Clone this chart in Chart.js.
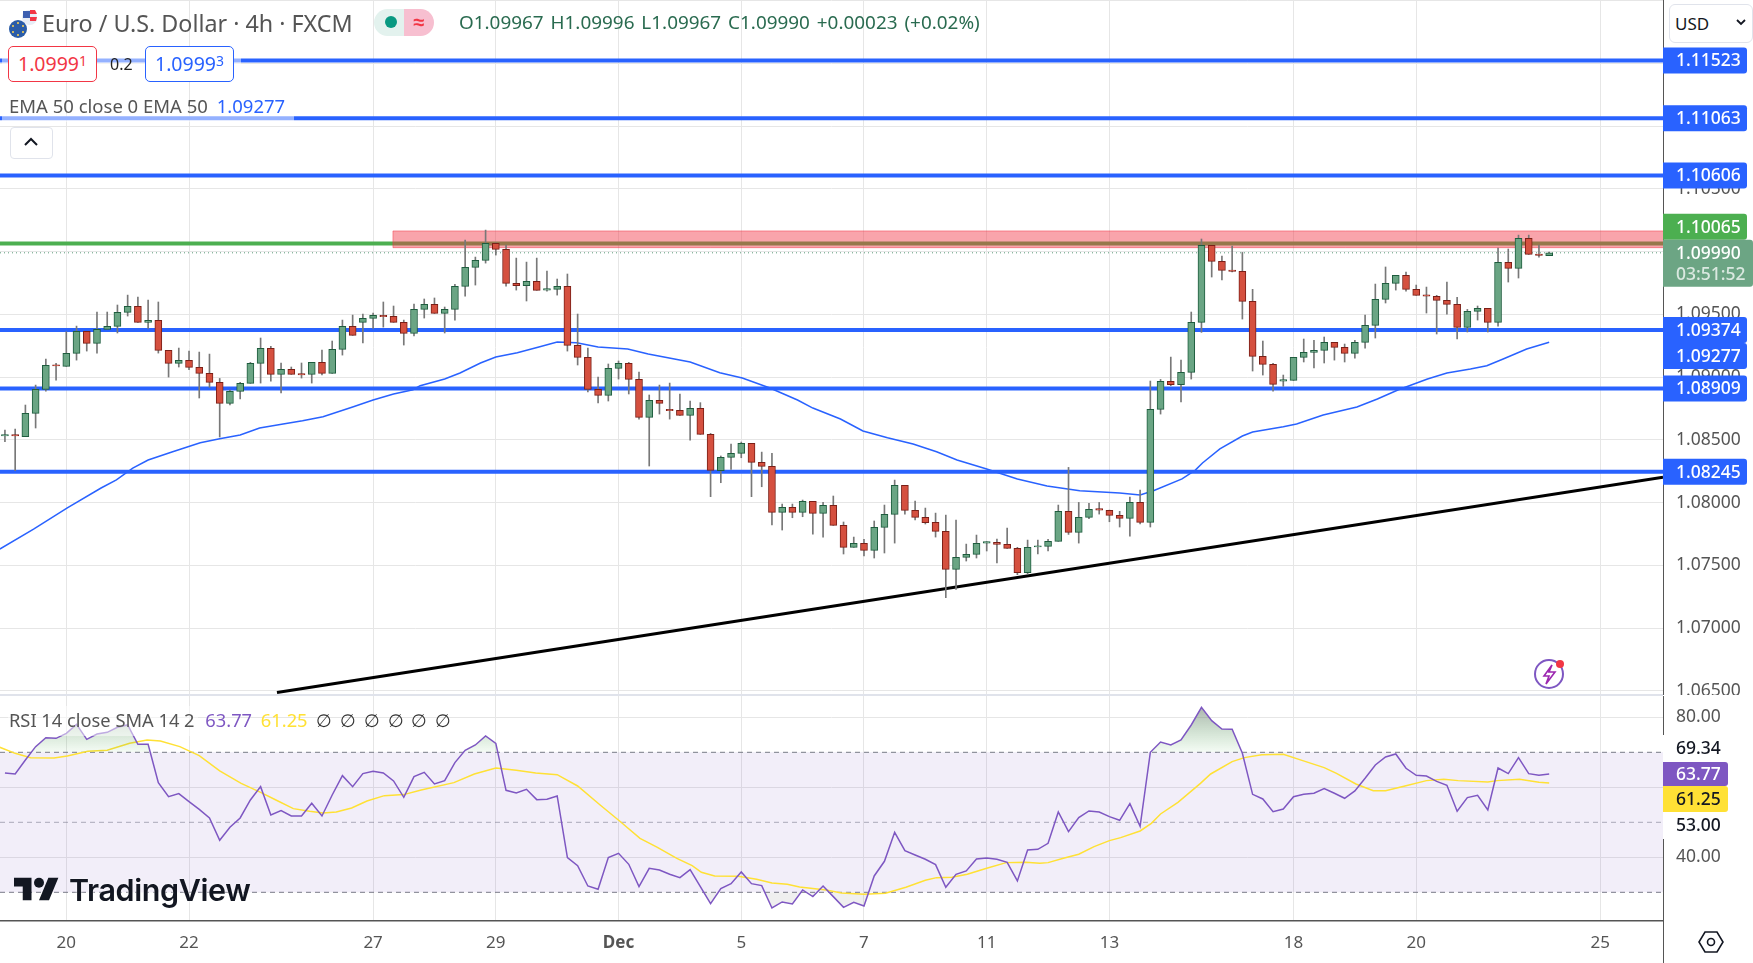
<!DOCTYPE html>
<html>
<head>
<meta charset="utf-8">
<title>Euro / U.S. Dollar 4h</title>
<script src="https://cdn.jsdelivr.net/npm/chart.js@4"></script>
<style>
    html, body { margin: 0; padding: 0; background: #fff; width: 1753px; height: 963px; overflow: hidden; }
    body { font-family: "Noto Sans", sans-serif; color: #555; position: relative; }
    canvas { position: absolute; left: 0; }
    #priceChart { top: 0; }
    #rsiChart { top: 696px; }
    .ui { position: absolute; white-space: nowrap; }
    .glass { position: absolute; background: rgba(255,255,255,0.5); }
    .quote { position: absolute; top: 46px; height: 34px; line-height: 34px; width: 87px; text-align: center; background: #fff; border-radius: 5px; font-size: 19.5px; }
    .quote sup { font-size: 14px; line-height: 0; vertical-align: 5px; }
</style>
</head>
<body>
<canvas id="priceChart" width="1753" height="695"></canvas>
<canvas id="rsiChart" width="1753" height="267"></canvas>

<div class="ui" style="left:0;top:694px;width:1663px;height:2px;background:#e0e3eb"></div>
<div class="ui" style="left:1663px;top:921px;width:1px;height:42px;background:#555"></div>

<!-- Header legend -->
<svg class="ui" style="left:8px;top:9px" width="30" height="30" viewBox="0 0 30 30">
    <rect x="14" y="1" width="15" height="15" rx="7" fill="#e8edf6"/>
    <path d="M22 1h5l2 4h-7zM22 8h7l-1 4h-6z" fill="#f23645"/>
    <rect x="15" y="2" width="7" height="7" fill="#3d5fb0"/>
    <circle cx="10" cy="20" r="9" fill="#2a5ca8"/>
    <circle cx="10" cy="14" r="1" fill="#ffd54f"/><circle cx="15" cy="17" r="1" fill="#ffd54f"/>
    <circle cx="15" cy="23" r="1" fill="#ffd54f"/><circle cx="10" cy="26" r="1" fill="#ffd54f"/>
    <circle cx="5" cy="23" r="1" fill="#ffd54f"/><circle cx="5" cy="17" r="1" fill="#ffd54f"/>
</svg>
<div class="ui" style="left:42px;top:7px;font-size:23.3px;line-height:32px;color:#555">Euro / U.S. Dollar · 4h · FXCM</div>

<div class="ui" style="left:374px;top:9px;width:31px;height:27px;background:#e3f2ee;border-radius:14px 0 0 14px"></div>
<div class="ui" style="left:404px;top:9px;width:30px;height:27px;background:#f7bfd0;border-radius:0 14px 14px 0;color:#f23645;text-align:center;font-size:20px;line-height:25px;font-weight:bold">≈</div>
<div class="ui" style="left:385px;top:16px;width:12px;height:12px;border-radius:50%;background:#089981"></div>

<div class="ui" style="left:459px;top:7px;font-size:18.900px;line-height:30px;color:#2a6b50;word-spacing:2px">O1.09967 H1.09996 L1.09967 C1.09990 +0.00023 (+0.02%)</div>

<div class="glass" style="left:2px;top:56px;width:239px;height:8px"></div>
<div class="glass" style="left:2px;top:114px;width:292px;height:8px"></div>

<div class="quote" style="left:8px;border:1px solid #f23645;color:#f23645">1.0999<sup>1</sup></div>
<div class="ui" style="left:110px;top:50px;font-size:16px;line-height:28px;color:#222">0.2</div>
<div class="quote" style="left:145px;border:1px solid #2962ff;color:#2962ff">1.0999<sup>3</sup></div>

<div class="ui" style="left:9px;top:92px;font-size:18.500px;line-height:28px;color:#555">EMA 50 close 0 EMA 50 <span style="color:#2962ff;margin-left:4px">1.09277</span></div>

<div class="ui" style="left:10px;top:127px;width:41px;height:30px;border:1px solid #e0e3eb;border-radius:4px;background:#fff"></div>
<svg class="ui" style="left:24px;top:136px" width="14" height="12" viewBox="0 0 14 12"><path d="M1 9l6-6 6 6" fill="none" stroke="#131722" stroke-width="2"/></svg>

<!-- Currency selector -->
<div class="ui" style="left:1669px;top:4px;width:82px;height:37px;border:1px solid #e0e3eb;border-radius:6px;background:#fff;color:#131722;font-size:17px;line-height:37px;text-indent:5px">USD</div>
<svg class="ui" style="left:1735px;top:18px" width="12" height="9" viewBox="0 0 12 9"><path d="M2 2l4 4 4-4" fill="none" stroke="#131722" stroke-width="1.8"/></svg>

<!-- Alert icon -->
<svg class="ui" style="left:1532px;top:656px" width="36" height="36" viewBox="0 0 36 36">
    <circle cx="17" cy="18" r="14" fill="#fff" stroke="#7e57c2" stroke-width="2"/>
    <path d="M20 9l-8 11h5l-3 8 9-12h-6z" fill="none" stroke="#9c27b0" stroke-width="1.6"/>
    <circle cx="28" cy="8" r="4" fill="#f23645"/>
</svg>

<!-- RSI legend -->
<div class="glass" style="left:8px;top:706px;width:190px;height:30px"></div>
<div class="ui" style="left:9px;top:706px;font-size:18.300px;line-height:28px;color:#555">RSI 14 close SMA 14 2 <span style="color:#7e57c2;margin-left:6px">63.77</span> <span style="color:#ffe135;margin-left:4px">61.25</span> <span style="color:#333;margin-left:4px;word-spacing:3px">∅ ∅ ∅ ∅ ∅ ∅</span></div>

<!-- Watermark -->
<svg class="ui" style="left:14px;top:877px" width="45" height="24" viewBox="0 0 36 19">
    <path d="M14 18.5H7V7.500H0V0.500h14zM28 18.500h-8L27.500 0.500h8z" fill="#131722"/><circle cx="20" cy="4.500" r="4" fill="#131722"/>
</svg>
<div class="ui" style="left:69px;top:870px;font-family:Inter,sans-serif;font-weight:600;font-size:30.500px;line-height:40px;color:#131722;letter-spacing:-0.4px;text-shadow:0 0 3px #fff">TradingView</div>

<!-- Settings icon -->
<svg class="ui" style="left:1698px;top:929px" width="26" height="26" viewBox="0 0 26 26">
    <path d="M7 3h12l6 10-6 10H7L1 13z" fill="none" stroke="#131722" stroke-width="1.6"/>
    <circle cx="13" cy="13" r="3.500" fill="none" stroke="#131722" stroke-width="1.6"/>
</svg>

<script>
// Candles, one entry per 4h bar
const candleOpen = [
    1.08530,1.08541,1.08525,1.08711,1.08902,1.09098,1.09085,1.09189,1.09364,1.09268,1.09380,1.09404,1.09515,1.09563,1.09436,1.09452,
    1.09213,1.09109,1.09133,1.09077,1.09029,1.08958,1.08790,1.08886,1.08950,1.09109,1.09228,1.09021,1.09061,1.09027,1.09021,1.09117,
    1.09029,1.09220,1.09404,1.09436,1.09467,1.09491,1.09483,1.09436,1.09348,1.09539,1.09579,1.09507,1.09539,1.09722,1.09874,1.09930,
    1.10065,1.10017,1.09746,1.09728,1.09762,1.09693,1.09699,1.09722,1.09252,1.09157,1.08902,1.08854,1.09069,1.09109,1.08981,1.08679,
    1.08814,1.08742,1.08734,1.08695,1.08750,1.08543,1.08254,1.08360,1.08392,1.08471,1.08320,1.08288,1.07922,1.07962,1.07922,1.08009,
    1.07914,1.07977,1.07818,1.07643,1.07675,1.07619,1.07802,1.07906,1.08137,1.07938,1.07882,1.07842,1.07770,1.07468,1.07563,1.07587,
    1.07677,1.07683,1.07667,1.07635,1.07441,1.07646,1.07651,1.07691,1.07930,1.07762,1.07882,1.07951,1.07938,1.07898,1.07874,1.08001,
    1.07842,1.08742,1.08965,1.08939,1.09037,1.09436,1.10049,1.09922,1.09853,1.09842,1.09603,1.09165,1.09101,1.08968,1.08973,1.09157,
    1.09197,1.09213,1.09276,1.09236,1.09189,1.09276,1.09412,1.09619,1.09746,1.09810,1.09699,1.09656,1.09643,1.09611,1.09579,1.09396,
    1.09523,1.09547,1.09436,1.09914,1.09866,1.10105,1.09980,1.09967
];
const candleHigh = [
    1.08578,1.08586,1.08777,1.08936,1.09143,1.09109,1.09361,1.09406,1.09364,1.09518,1.09518,1.09574,1.09653,1.09637,1.09614,1.09598,
    1.09213,1.09231,1.09207,1.09199,1.09183,1.08989,1.08896,1.08958,1.09117,1.09311,1.09244,1.09112,1.09080,1.09112,1.09117,1.09215,
    1.09287,1.09454,1.09494,1.09502,1.09510,1.09598,1.09566,1.09454,1.09582,1.09622,1.09630,1.09558,1.09738,1.10092,1.09956,1.10171,
    1.10070,1.10052,1.09948,1.09916,1.09948,1.09845,1.09781,1.09821,1.09502,1.09231,1.09000,1.09104,1.09128,1.09117,1.09040,1.08857,
    1.08936,1.08952,1.08865,1.08809,1.08796,1.08551,1.08371,1.08466,1.08482,1.08471,1.08402,1.08392,1.07988,1.07988,1.08020,1.08009,
    1.08001,1.08052,1.07845,1.07725,1.07707,1.07853,1.07980,1.08179,1.08137,1.08012,1.07956,1.07916,1.07900,1.07861,1.07669,1.07741,
    1.07688,1.07709,1.07797,1.07643,1.07701,1.07701,1.07707,1.07980,1.08280,1.08001,1.07993,1.08001,1.07940,1.07930,1.08044,1.08100,
    1.08968,1.08981,1.09159,1.09135,1.09518,1.10100,1.10049,1.09964,1.10044,1.09993,1.09699,1.09287,1.09109,1.09016,1.09157,1.09303,
    1.09292,1.09319,1.09276,1.09263,1.09292,1.09494,1.09741,1.09877,1.09810,1.09837,1.09733,1.09717,1.09651,1.09757,1.09635,1.09539,
    1.09566,1.09547,1.10028,1.10020,1.10131,1.10131,1.10052,1.09996
];
const candleLow = [
    1.08485,1.08254,1.08525,1.08594,1.08888,1.08976,1.09085,1.09135,1.09207,1.09191,1.09380,1.09351,1.09486,1.09436,1.09388,1.09191,
    1.09000,1.09080,1.09058,1.08833,1.08918,1.08522,1.08777,1.08825,1.08950,1.08952,1.08968,1.08873,1.09021,1.08992,1.08952,1.09016,
    1.09029,1.09175,1.09332,1.09271,1.09388,1.09398,1.09436,1.09255,1.09327,1.09470,1.09507,1.09351,1.09454,1.09645,1.09733,1.09908,
    1.09972,1.09725,1.09693,1.09606,1.09691,1.09685,1.09653,1.09207,1.09096,1.08881,1.08793,1.08809,1.08984,1.08865,1.08665,1.08291,
    1.08705,1.08665,1.08695,1.08498,1.08543,1.08047,1.08158,1.08264,1.08357,1.08047,1.08126,1.07821,1.07781,1.07879,1.07887,1.07749,
    1.07725,1.07818,1.07590,1.07643,1.07574,1.07558,1.07598,1.07677,1.07908,1.07861,1.07829,1.07725,1.07242,1.07308,1.07534,1.07558,
    1.07614,1.07518,1.07635,1.07425,1.07430,1.07590,1.07614,1.07691,1.07746,1.07677,1.07871,1.07908,1.07847,1.07805,1.07733,1.07829,
    1.07805,1.08705,1.08931,1.08801,1.08984,1.09356,1.09797,1.09773,1.09837,1.09462,1.09048,1.09016,1.08888,1.08926,1.08973,1.09120,
    1.09072,1.09112,1.09135,1.09120,1.09151,1.09231,1.09311,1.09590,1.09693,1.09685,1.09651,1.09510,1.09343,1.09502,1.09303,1.09359,
    1.09454,1.09359,1.09406,1.09757,1.09789,1.09977,1.09956,1.09967
];
const candleClose = [
    1.08541,1.08530,1.08711,1.08902,1.09093,1.09088,1.09189,1.09364,1.09268,1.09380,1.09404,1.09515,1.09563,1.09436,1.09452,1.09213,
    1.09109,1.09133,1.09077,1.09029,1.08958,1.08790,1.08886,1.08950,1.09109,1.09228,1.09021,1.09061,1.09021,1.09016,1.09117,1.09029,
    1.09220,1.09404,1.09332,1.09467,1.09491,1.09481,1.09436,1.09348,1.09539,1.09579,1.09507,1.09539,1.09722,1.09874,1.09930,1.10065,
    1.10017,1.09746,1.09728,1.09762,1.09691,1.09704,1.09722,1.09252,1.09157,1.08902,1.08854,1.09069,1.09109,1.08981,1.08679,1.08814,
    1.08790,1.08732,1.08695,1.08750,1.08543,1.08256,1.08360,1.08392,1.08471,1.08320,1.08288,1.07922,1.07962,1.07922,1.08009,1.07914,
    1.07977,1.07818,1.07643,1.07675,1.07619,1.07802,1.07906,1.08137,1.07938,1.07882,1.07839,1.07770,1.07468,1.07563,1.07587,1.07675,
    1.07688,1.07667,1.07635,1.07441,1.07643,1.07656,1.07691,1.07930,1.07762,1.07882,1.07946,1.07940,1.07898,1.07874,1.08001,1.07842,
    1.08742,1.08965,1.08939,1.09037,1.09436,1.10049,1.09922,1.09850,1.09842,1.09603,1.09165,1.09101,1.08942,1.08979,1.09157,1.09197,
    1.09213,1.09276,1.09236,1.09189,1.09276,1.09412,1.09619,1.09746,1.09810,1.09699,1.09651,1.09645,1.09611,1.09579,1.09396,1.09523,
    1.09547,1.09436,1.09914,1.09866,1.10105,1.09977,1.09969,1.09990
];

// EMA 50 at its bends: bar position and value
const emaBars = [
    -0.5,2.8,6.1,9.4,10.9,12.5,14,16.4,19.1,21,23,24.9,27.2,29.1,31.1,34,36,38,39.9,40.6,43,44.5,46.5,48,50.1,52.3,54,55.9,58,60.9,62.9,
    67,69.9,72.1,74.8,77.5,79,81.7,83.9,86.3,88.8,91.1,93.1,96,99,101.9,105.1,109,111,112.3,115.1,116.4,117.1,118.8,121,122,125,126.3,
    128.9,132.2,134.2,136.2,139.1,141,143.3,144.9,146.5,148.8,151
];
const emaValues = [
    1.07630,1.07789,1.07957,1.08116,1.08180,1.08275,1.08339,1.08405,1.08477,1.08509,1.08538,1.08594,1.08626,1.08652,1.08684,1.08761,
    1.08817,1.08865,1.08899,1.08931,1.08984,1.09032,1.09112,1.09160,1.09194,1.09242,1.09279,1.09274,1.09239,1.09224,1.09184,1.09120,
    1.09035,1.08992,1.08913,1.08817,1.08753,1.08666,1.08570,1.08517,1.08467,1.08405,1.08339,1.08267,1.08188,1.08132,1.08094,1.08076,
    1.08060,1.08094,1.08188,1.08259,1.08315,1.08427,1.08530,1.08562,1.08604,1.08626,1.08698,1.08761,1.08825,1.08897,1.08984,1.09032,
    1.09064,1.09090,1.09144,1.09224,1.09277
];

// Support and resistance levels
const blueLevels = [1.11523, 1.11063, 1.10606, 1.09374, 1.08909, 1.08245];
const greenLevel = 1.10065;
const lastPrice = 1.09990;
const zoneStartBar = 37.94;
const zoneTop = 1.10164;
const zoneBottom = 1.10031;
const trendBars = [26.6, 162.13];
const trendValues = [1.06486, 1.08201];

// RSI per bar
const rsiValues = [
    64.10,63.81,67.81,71.62,74.19,74.00,75.43,78.00,73.71,75.24,75.71,77.14,77.81,72.29,72.29,61.33,57.33,58.19,55.91,53.71,51.24,44.86,
    48.57,51.24,56.38,60.19,52.10,53.33,51.81,51.81,55.43,51.81,57.81,63.33,60.19,63.91,64.57,64.10,61.81,57.14,63.05,64.29,60.95,61.91,
    67.05,70.57,72.10,74.67,72.57,59.14,58.38,59.43,56.48,56.57,57.52,39.91,37.62,31.81,30.86,39.91,41.14,38.00,31.62,36.86,36.38,35.14,
    34.19,36.48,31.62,26.76,31.05,32.48,35.81,32.48,31.91,25.52,27.24,26.67,30.67,28.76,31.81,28.76,25.71,27.14,26.10,34.67,38.86,47.14,
    41.91,40.67,39.43,37.91,31.43,35.14,36.10,39.52,39.81,39.43,38.57,33.24,42.10,42.29,44.00,52.95,47.33,51.33,53.24,52.95,51.62,50.57,
    55.33,48.86,70.00,72.95,72.10,73.52,77.81,82.86,79.05,76.67,76.57,69.71,58.00,56.67,53.05,53.81,57.33,58.00,58.29,59.62,58.29,56.86,
    58.95,62.57,66.38,68.67,69.52,65.43,63.43,63.24,61.71,60.57,53.14,57.05,57.71,53.52,65.52,63.91,68.48,63.91,63.43,63.77
];

// RSI smoothing line read at its bends
const smaBars = [
    -0.5,1,2.5,4.8,6.1,8.1,10,12.2,13.9,15.2,17.1,19,21,23.1,25,26.5,28.2,29.8,31.1,32.4,33.9,35.4,37.1,39,40.7,43.9,45.9,48,50,51.9,54,56,58.2,
    60.1,62.1,63.8,65.7,67.2,68.1,69.4,71.7,73.5,75,76.5,77.7,80.3,81.8,84,86.1,88.1,90,91.1,92.6,94.1,96,97.9,99.8,101.2,102,103.5,105,106.5,
    108,109.1,111,112.1,113,114.7,116.9,117.9,120,121.2,122.9,125,126.9,129,130.2,132.1,133.8,135,136.9,139,140.7,142.1,145,145.9,148.1,150,151
];
const smaValues = [
    71.43,69.71,68.48,68.38,68.95,70.29,70.57,72.57,73.52,73.24,71.62,69.05,64.67,61.14,58.57,56.38,53.91,53.14,52.67,52.95,54.10,56.10,57.62,
    57.91,59.24,61.33,63.81,65.52,64.86,64.10,63.62,60.38,54.95,50.38,45.43,42.86,39.71,37.62,35.71,34.67,34.57,33.71,32.67,32.29,31.52,30.67,
    29.81,29.43,29.71,31.43,33.43,34.19,34.29,35.14,36.86,38.48,38.57,38.29,38.48,39.71,40.86,43.05,44.76,45.62,47.52,49.71,52.38,55.71,61.14,
    63.81,67.33,68.48,69.33,69.43,67.62,65.62,64.00,60.95,59.05,59.05,60.38,61.91,62.29,61.91,61.52,61.91,62.29,61.43,61.25
];

// Axis ticks
const timeBars = [6, 18, 36, 48, 60, 72, 84, 96, 108, 126, 138, 156];
const timeLabels = ['20', '22', '27', '29', 'Dec', '5', '7', '11', '13', '18', '20', '25'];
const priceTicks = [1.065, 1.07, 1.075, 1.08, 1.085, 1.09, 1.095, 1.10, 1.105, 1.11, 1.115, 1.12];
const rsiTicks = [80, 60, 40];
const rsiBands = [70, 50, 30];

// Visible window of the shared bar axis and of both price scales
const barMin = -0.483;
const barMax = 162.13;
const priceMin = 1.064665;
const priceMax = 1.120044;
const rsiMin = 21.8;
const rsiMax = 86.09;

const GRID = '#e6e6e6';
const AXIS = '#555';
const FONT = '"Noto Sans", sans-serif';
const BLUE = '#2962ff';
const GREEN = '#4caf50';
const GREEN_BODY = '#6aa584';
const GREEN_EDGE = '#1e5c3e';
const RED_BODY = '#d5503f';
const RED_EDGE = '#7a1f17';

function lineAt(level) {
    return [{ x: barMin, y: level }, { x: barMax, y: level }];
}

function lineDataset(data, color, width, order, extra) {
    return Object.assign({
        type: 'line',
        data: data,
        borderColor: color,
        backgroundColor: 'transparent',
        borderWidth: width,
        pointRadius: 0,
        tension: 0,
        fill: false,
        order: order
    }, extra || {});
}

function zip(xs, ys) {
    return xs.map((x, i) => ({ x: x, y: ys[i] }));
}

// Both charts share the same bar axis with the date ticks
function barAxis(height, showLabels) {
    return {
        type: 'linear',
        min: barMin,
        max: barMax,
        offset: false,
        border: { display: showLabels, color: AXIS, width: 1.5 },
        grid: { color: GRID, drawTicks: false, offset: false },
        afterBuildTicks: scale => { scale.ticks = timeBars.map(v => ({ value: v })); },
        afterFit: scale => { scale.height = height; scale.paddingLeft = 0; scale.paddingRight = 0; },
        ticks: {
            display: showLabels,
            autoSkip: false,
            maxRotation: 0,
            padding: 12,
            color: AXIS,
            font: ctx => ({ family: FONT, size: 17, weight: ctx.tick && ctx.tick.value === 60 ? 'bold' : 'normal' }),
            callback: v => timeLabels[timeBars.indexOf(v)]
        }
    };
}

function valueAxis(min, max, ticks, digits) {
    return {
        position: 'right',
        min: min,
        max: max,
        border: { color: AXIS, width: 1 },
        grid: { color: GRID, drawTicks: false },
        afterBuildTicks: scale => { scale.ticks = ticks.map(v => ({ value: v })); },
        // Chart area has to fill the pane, so no room is kept for half tick labels
        afterFit: scale => { scale.width = 1753 - 1663; scale.paddingTop = 0; scale.paddingBottom = 0; },
        ticks: {
            padding: 13,
            color: AXIS,
            font: { family: FONT, size: 17.5 },
            // The top grid line has no label in the picture
            callback: v => v === priceTicks[priceTicks.length - 1] ? '' : v.toFixed(digits)
        }
    };
}

// Label boxes on the right axis, drawn over the tick labels
function drawTag(ctx, top, height, width, fill, lines) {
    ctx.fillStyle = fill;
    ctx.beginPath();
    ctx.roundRect(1663, top, width, height, [0, 3, 3, 0]);
    ctx.fill();
    ctx.textBaseline = 'middle';
    ctx.textAlign = 'left';
    lines.forEach(line => {
        ctx.fillStyle = line.color;
        ctx.font = '500 17.5px ' + FONT;
        ctx.fillText(line.text, 1676, line.y);
    });
}

const priceTags = {
    id: 'priceTags',
    afterDraw(chart) {
        const ctx = chart.ctx;
        const y = chart.scales.y;
        const tagHeight = 26;
        ctx.save();
        blueLevels.forEach(level => {
            const mid = y.getPixelForValue(level);
            drawTag(ctx, mid - tagHeight / 2, tagHeight, 84, BLUE,
                [{ text: level.toFixed(5), color: '#fff', y: mid + 1 }]);
        });
        // EMA tag sits right under the 1.09374 tag
        const emaLast = emaValues[emaValues.length - 1];
        const emaMid = y.getPixelForValue(blueLevels[3]) + tagHeight;
        drawTag(ctx, emaMid - tagHeight / 2, tagHeight, 84, BLUE,
            [{ text: emaLast.toFixed(5), color: '#fff', y: emaMid + 1 }]);
        // Current price tag with countdown, green level is pushed above it
        const lastMid = y.getPixelForValue(lastPrice);
        drawTag(ctx, lastMid - 13 - tagHeight, tagHeight, 84, GREEN,
            [{ text: greenLevel.toFixed(5), color: '#fff', y: lastMid - 25 }]);
        drawTag(ctx, lastMid - 13, 47, 90, '#6ca584', [
            { text: lastPrice.toFixed(5), color: '#fff', y: lastMid + 1 },
            { text: '03:51:52', color: 'rgba(255,255,255,0.75)', y: lastMid + 22 }
        ]);
        ctx.restore();
    }
};

const rsiTags = {
    id: 'rsiTags',
    afterDraw(chart) {
        const ctx = chart.ctx;
        ctx.save();
        const top = 735 - 696;
        drawTag(ctx, top, 27, 65, '#fff', [{ text: '69.34', color: '#131722', y: top + 14 }]);
        drawTag(ctx, top + 27, 24, 65, '#7e57c2', [{ text: rsiValues[rsiValues.length - 1].toFixed(2), color: '#fff', y: top + 40 }]);
        drawTag(ctx, top + 51, 26, 65, '#ffe135', [{ text: smaValues[smaValues.length - 1].toFixed(2), color: '#131722', y: top + 65 }]);
        drawTag(ctx, top + 77, 27, 65, '#fff', [{ text: '53.00', color: '#131722', y: top + 91 }]);
        ctx.restore();
    }
};

document.addEventListener('DOMContentLoaded', function() {
    const bars = candleOpen.map((_, i) => i);
    const isUp = i => candleClose[i] >= candleOpen[i];

    // Price pane
    new Chart(document.getElementById('priceChart'), {
        type: 'bar',
        data: {
            datasets: [
                // Candle bodies and wicks are floating bars
                {
                    data: bars.map(i => ({ x: i, y: [candleOpen[i], candleClose[i]] })),
                    backgroundColor: bars.map(i => isUp(i) ? GREEN_BODY : RED_BODY),
                    borderColor: bars.map(i => isUp(i) ? GREEN_EDGE : RED_EDGE),
                    borderWidth: 1,
                    borderSkipped: false,
                    barThickness: 7,
                    grouped: false,
                    order: 1
                },
                {
                    data: bars.map(i => ({ x: i, y: [candleLow[i], candleHigh[i]] })),
                    backgroundColor: '#787878',
                    borderWidth: 0,
                    barThickness: 1,
                    grouped: false,
                    order: 2
                },
                lineDataset(zip(emaBars, emaValues), BLUE, 1.5, 3),
                lineDataset(zip(trendBars, trendValues), '#000', 3, 4),
                ...blueLevels.map(level => lineDataset(lineAt(level), BLUE, 4, 5)),
                lineDataset(lineAt(lastPrice), '#5c9a7a', 1, 6, { borderDash: [1, 3] }),
                // Resistance zone sits over the green level
                lineDataset([{ x: zoneStartBar, y: zoneTop }, { x: barMax, y: zoneTop }], 'rgba(242,54,69,0.5)', 1, 7, {
                    fill: { value: zoneBottom },
                    backgroundColor: 'rgba(242,54,69,0.45)'
                }),
                lineDataset([{ x: zoneStartBar, y: zoneBottom }, { x: zoneStartBar, y: zoneTop }], 'rgba(242,54,69,0.5)', 1, 7),
                lineDataset([{ x: zoneStartBar, y: zoneBottom }, { x: barMax, y: zoneBottom }], 'rgba(242,54,69,0.5)', 1, 7),
                lineDataset(lineAt(greenLevel), GREEN, 4, 8)
            ]
        },
        options: {
            responsive: false,
            animation: false,
            events: [],
            layout: { padding: 0 },
            plugins: { legend: { display: false }, tooltip: { enabled: false } },
            scales: {
                x: barAxis(0, false),
                y: valueAxis(priceMin, priceMax, priceTicks, 5)
            }
        },
        plugins: [priceTags]
    });

    // RSI pane
    const rsiCanvas = document.getElementById('rsiChart');
    const rsiPoints = zip(bars, rsiValues);

    // Overbought area gets darker towards the top of the pane
    const paneHeight = 225;
    const overbought = rsiCanvas.getContext('2d').createLinearGradient(0,
        (rsiMax - 83) / (rsiMax - rsiMin) * paneHeight, 0,
        (rsiMax - rsiBands[0]) / (rsiMax - rsiMin) * paneHeight);
    overbought.addColorStop(0, 'rgba(90,105,95,0.5)');
    overbought.addColorStop(1, 'rgba(76,175,80,0.06)');

    new Chart(rsiCanvas, {
        type: 'line',
        data: {
            datasets: [
                lineDataset(rsiPoints, '#7e57c2', 1.5, 1, {
                    fill: { value: rsiBands[0], above: overbought, below: 'transparent' }
                }),
                lineDataset(rsiPoints, 'transparent', 0, 3, {
                    fill: { value: rsiBands[2], above: 'transparent', below: 'rgba(120,120,120,0.12)' }
                }),
                lineDataset(zip(smaBars, smaValues), '#ffe135', 1.5, 2),
                lineDataset(lineAt(rsiBands[0]), '#787b86', 1, 4, {
                    borderDash: [5, 4],
                    fill: { value: rsiBands[2] },
                    backgroundColor: 'rgba(126,87,194,0.1)'
                }),
                lineDataset(lineAt(rsiBands[1]), 'rgba(120,123,134,0.6)', 1, 4, { borderDash: [5, 4] }),
                lineDataset(lineAt(rsiBands[2]), '#787b86', 1, 4, { borderDash: [5, 4] })
            ]
        },
        options: {
            responsive: false,
            animation: false,
            events: [],
            layout: { padding: 0 },
            plugins: { legend: { display: false }, tooltip: { enabled: false } },
            scales: {
                x: barAxis(42, true),
                y: valueAxis(rsiMin, rsiMax, rsiTicks, 2)
            }
        },
        plugins: [rsiTags]
    });
});
</script>
</body>
</html>
